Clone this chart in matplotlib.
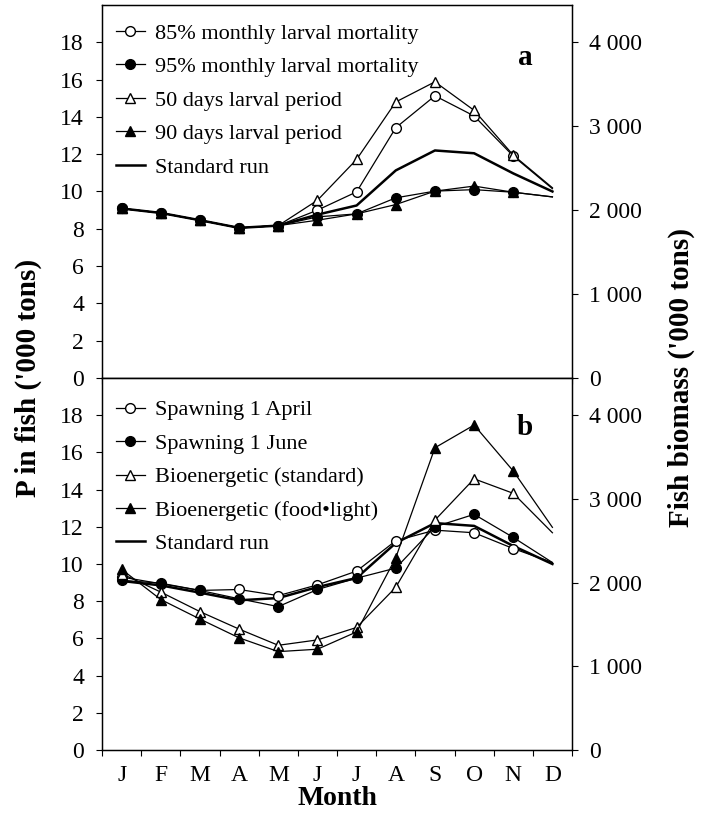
import numpy as np
import matplotlib
matplotlib.use("Agg")
import matplotlib.pyplot as plt
from matplotlib.ticker import FixedLocator, NullFormatter

plt.rcParams['font.family'] = ['Liberation Serif', 'DejaVu Serif']

months = ['J', 'F', 'M', 'A', 'M', 'J', 'J', 'A', 'S', 'O', 'N', 'D']

# panel a
standard = [9.09, 8.85, 8.46, 8.05, 8.17, 8.76, 9.25, 11.13, 12.2, 12.05, 10.97, 10.0]
mort85 = [9.09, 8.85, 8.46, 8.05, 8.17, 9.0, 9.98, 13.42, 15.13, 14.05, 11.9, 10.15]
mort95 = [9.09, 8.85, 8.46, 8.05, 8.17, 8.64, 8.8, 9.66, 10.02, 10.1, 9.96, 9.71]
larv50 = [9.09, 8.85, 8.46, 8.05, 8.17, 9.53, 11.72, 14.8, 15.88, 14.35, 11.95, 10.2]
larv90 = [9.09, 8.85, 8.46, 8.05, 8.17, 8.46, 8.8, 9.3, 10.02, 10.29, 9.96, 9.71]

# panel b
spawn_apr = [9.3, 8.94, 8.58, 8.63, 8.3, 8.88, 9.62, 11.25, 11.82, 11.68, 10.83, 10.08]
spawn_jun = [9.12, 8.97, 8.58, 8.13, 7.71, 8.63, 9.24, 9.78, 12.0, 12.67, 11.43, 10.08]
bio_std = [9.48, 8.49, 7.44, 6.5, 5.63, 5.92, 6.59, 8.75, 12.36, 14.58, 13.8, 11.68]
bio_food = [9.71, 8.09, 7.04, 6.03, 5.29, 5.42, 6.35, 10.34, 16.25, 17.47, 15.0, 11.97]

left_ticks = [0, 2, 4, 6, 8, 10, 12, 14, 16, 18]
right_ticks = [0, 1000, 2000, 3000, 4000]
right_labels = ['0', '1 000', '2 000', '3 000', '4 000']

x = np.arange(12) + 0.5
fs = 17

fig = plt.figure(figsize=(7.04, 8.18), dpi=100)
ax_a = fig.add_axes([0.145, 0.5379, 0.6675, 0.456])
ax_b = fig.add_axes([0.145, 0.0831, 0.6675, 0.4548])


def styled(ax, label, show_months, ly):
    ax.set_xlim(0, 12)
    ax.set_ylim(0, 20)
    ax.xaxis.set_major_locator(FixedLocator(range(13)))
    ax.xaxis.set_major_formatter(NullFormatter())
    ax.xaxis.set_minor_locator(FixedLocator(x))
    if show_months:
        ax.set_xticklabels(months, minor=True, fontsize=fs)
    else:
        ax.xaxis.set_minor_formatter(NullFormatter())
    ax.tick_params(axis='x', which='minor', length=0, pad=11)
    ax.tick_params(axis='x', which='major', direction='out', length=4)
    ax.set_yticks(left_ticks)
    ax.tick_params(axis='y', direction='out', length=4, labelsize=fs, pad=9)
    for s in ax.spines.values():
        s.set_linewidth(1.0)
    ax.text(0.9, ly, label, transform=ax.transAxes, fontsize=21,
            fontweight='bold', ha='center', va='center')
    tw = ax.twinx()
    tw.set_ylim(0, 20 * 4000 / 18)
    tw.set_yticks(right_ticks)
    tw.set_yticklabels(right_labels)
    tw.tick_params(axis='y', direction='out', length=4, labelsize=fs, pad=8)
    return tw


lw = 0.9
ms = 7
me = slice(0, 11)
leg_kw = dict(loc='upper left', frameon=False, fontsize=16, handlelength=1.3,
              handletextpad=0.45, labelspacing=0.58, borderaxespad=0.0)

styled(ax_a, 'a', False, 0.86)
ax_a.plot(x, mort85, '-o', color='black', mfc='white', lw=lw, ms=ms, markevery=me,
          label='85% monthly larval mortality', zorder=3)
ax_a.plot(x, mort95, '-o', color='black', mfc='black', lw=lw, ms=ms, markevery=me,
          label='95% monthly larval mortality', zorder=3)
ax_a.plot(x, larv50, '-^', color='black', mfc='white', lw=lw, ms=ms, markevery=me,
          label='50 days larval period', zorder=3)
ax_a.plot(x, larv90, '-^', color='black', mfc='black', lw=lw, ms=ms, markevery=me,
          label='90 days larval period', zorder=3)
ax_a.plot(x, standard, '-', color='black', lw=1.8, label='Standard run', zorder=2)
ax_a.legend(bbox_to_anchor=(0.01, 0.975), **leg_kw)

styled(ax_b, 'b', True, 0.866)
ax_b.plot(x, spawn_apr, '-o', color='black', mfc='white', lw=lw, ms=ms, markevery=me,
          label='Spawning 1 April', zorder=3)
ax_b.plot(x, spawn_jun, '-o', color='black', mfc='black', lw=lw, ms=ms, markevery=me,
          label='Spawning 1 June', zorder=3)
ax_b.plot(x, bio_std, '-^', color='black', mfc='white', lw=lw, ms=ms, markevery=me,
          label='Bioenergetic (standard)', zorder=3)
ax_b.plot(x, bio_food, '-^', color='black', mfc='black', lw=lw, ms=ms, markevery=me,
          label='Bioenergetic (food\u2022light)', zorder=3)
ax_b.plot(x, standard, '-', color='black', lw=1.8, label='Standard run', zorder=2)
ax_b.legend(bbox_to_anchor=(0.01, 0.965), **leg_kw)

ax_b.set_xlabel('Month', fontsize=20, fontweight='bold', labelpad=0)
fig.text(0.04, 0.5379, "P in fish ('000 tons)", rotation=90, fontsize=21,
         fontweight='bold', ha='center', va='center')
fig.text(0.968, 0.5379, "Fish biomass ('000 tons)", rotation=90, fontsize=21,
         fontweight='bold', ha='center', va='center')

fig.savefig('out.png', dpi=100)
